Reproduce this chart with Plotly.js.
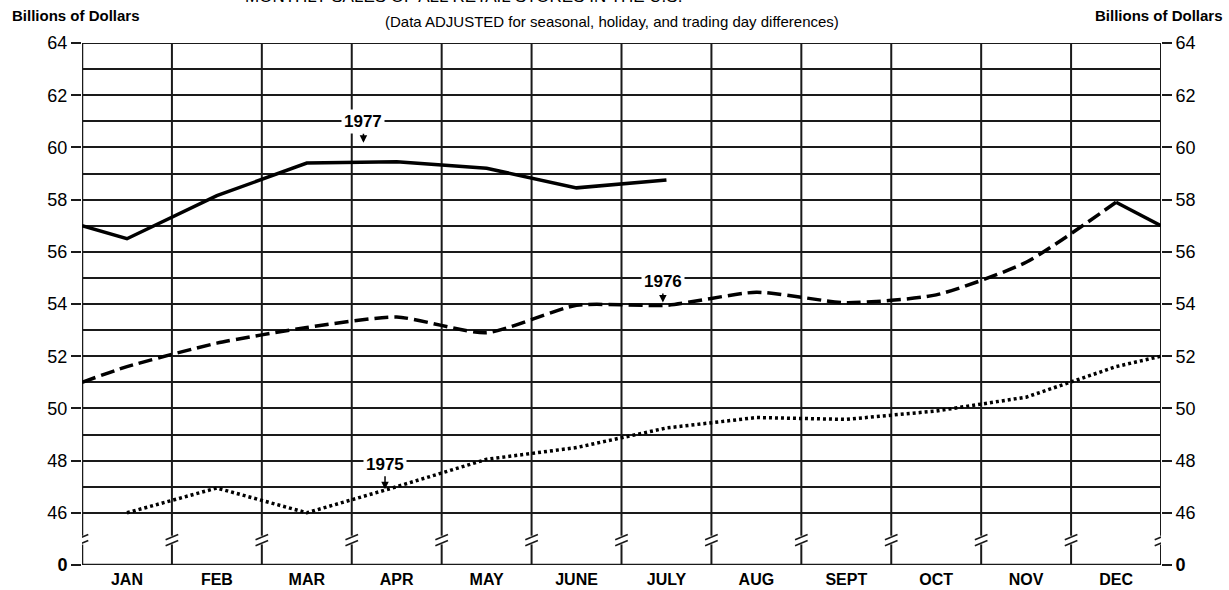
<!DOCTYPE html>
<html>
<head>
<meta charset="utf-8">
<script src="https://cdn.plot.ly/plotly-3.0.1.min.js"></script>
<style>html,body{margin:0;padding:0;background:#fff;}#chart{width:1229px;height:590px;}</style>
</head>
<body>
<div id="chart"></div>
<script>
// ---- data (billions of dollars, seasonally adjusted) ----
const months = ['JAN','FEB','MAR','APR','MAY','JUNE','JULY','AUG','SEPT','OCT','NOV','DEC'];
const sales1975 = [46.0, 46.95, 46.0, 47.0, 48.05, 48.5, 49.25, 49.65, 49.58, 49.9, 50.43, 51.6];
const sales1976 = [51.6, 52.5, 53.1, 53.5, 52.9, 53.95, 53.95, 54.45, 54.05, 54.35, 55.6, 57.9];
const sales1977 = [56.5, 58.15, 59.4, 59.45, 59.2, 58.45, 58.75];
// values where each line crosses the year boundary (left / right frame)
const start1976 = 51.0;   // from Dec 1975 into Jan 1976
const start1977 = 57.0;   // from Dec 1976 into Jan 1977
const end1975 = 52.0;
const end1976 = 57.0;
const yTickVals = [44, 46, 48, 50, 52, 54, 56, 58, 60, 62, 64];
const yTickText = ['<b>0</b>', '46', '48', '50', '52', '54', '56', '58', '60', '62', '64'];
const yMinorVals = [47, 49, 51, 53, 55, 57, 59, 61, 63];

const FONT = 'Liberation Sans, Arial, Helvetica, sans-serif';
const INK = '#1a1a1a';
const pos = months.map((m, i) => i + 0.5);   // month centres
const n = months.length;

const traces = [
  { // 1975 dotted
    x: pos.concat([n]), y: sales1975.concat([end1975]),
    mode: 'lines', line: {color: '#000', width: 3.5, dash: '3px,3px'},
    hoverinfo: 'skip', showlegend: false
  },
  { // 1976 dashed
    x: [0].concat(pos), y: [start1976].concat(sales1976),
    mode: 'lines', line: {color: '#000', width: 3.5, dash: '14px,6px', shape: 'spline', smoothing: 0.6},
    hoverinfo: 'skip', showlegend: false
  },
  { // Dec 1976 -> Jan 1977 transition (solid)
    x: [pos[n - 1], n], y: [sales1976[n - 1], end1976],
    mode: 'lines', line: {color: '#000', width: 3.5},
    hoverinfo: 'skip', showlegend: false
  },
  { // 1977 solid
    x: [0].concat(pos.slice(0, sales1977.length)), y: [start1977].concat(sales1977),
    mode: 'lines', line: {color: '#000', width: 3.5},
    hoverinfo: 'skip', showlegend: false
  },
  { // carrier for right axis
    x: [0], y: [50], yaxis: 'y2', mode: 'markers', marker: {opacity: 0},
    hoverinfo: 'skip', showlegend: false
  }
];

// vertical grid with axis breaks
const shapes = [];
const breakLo = 44.84, breakHi = 45.07;
for (let b = 0; b <= n; b++) {
  const w = (b === 0) ? 2.5 : 2;
  shapes.push({type: 'line', xref: 'x', yref: 'y', x0: b, x1: b, y0: 44, y1: breakLo - 0.05, line: {color: INK, width: w}, layer: 'below'});
  shapes.push({type: 'line', xref: 'x', yref: 'y', x0: b, x1: b, y0: breakHi + 0.05, y1: 64, line: {color: INK, width: w}, layer: 'below'});
  [breakLo, breakHi].forEach(v => {
    shapes.push({type: 'line', xref: 'x', yref: 'y', x0: b - 0.07, x1: b + 0.07, y0: v - 0.1, y1: v + 0.1, line: {color: INK, width: 1.6}});
  });
}
// frame top and bottom
shapes.push({type: 'line', xref: 'x', yref: 'y', x0: 0, x1: n, y0: 64, y1: 64, line: {color: INK, width: 2}, layer: 'below'});
shapes.push({type: 'line', xref: 'x', yref: 'y', x0: 0, x1: n, y0: 44, y1: 44, line: {color: INK, width: 2.5}, layer: 'below'});

const yearLabel = (txt, x, y, ay) => ({
  text: '<b>' + txt + '</b>', x: x, y: y, xref: 'x', yref: 'y',
  showarrow: true, arrowhead: 2, arrowsize: 1, arrowwidth: 1.5, arrowcolor: '#000',
  ax: 0, ay: ay, bgcolor: '#fff', borderpad: 2,
  font: {family: FONT, size: 17, color: '#000'}
});

const annotations = [
  {text: 'MONTHLY SALES OF ALL RETAIL STORES IN THE U.S.', xref: 'paper', yref: 'paper',
   x: 0.149, y: 1.067, xanchor: 'left', yanchor: 'bottom', showarrow: false,
   font: {family: FONT, size: 17, color: '#000'}},
  {text: '(Data ADJUSTED for seasonal, holiday, and trading day differences)', xref: 'paper', yref: 'paper',
   x: 0.491, y: 1.042, xanchor: 'center', yanchor: 'middle', showarrow: false,
   font: {family: FONT, size: 15, color: '#000'}},
  {text: '<b>Billions of Dollars</b>', xref: 'paper', yref: 'paper',
   x: -0.0667, y: 1.0536, xanchor: 'left', yanchor: 'middle', showarrow: false,
   font: {family: FONT, size: 15, color: '#000'}},
  {text: '<b>Billions of Dollars</b>', xref: 'paper', yref: 'paper',
   x: 1.0593, y: 1.0536, xanchor: 'right', yanchor: 'middle', showarrow: false,
   font: {family: FONT, size: 15, color: '#000'}},
  yearLabel('1977', 3.13, 60.18, -21),
  yearLabel('1976', 6.46, 54.06, -21),
  yearLabel('1975', 3.37, 46.9, -25)
];

const yCommon = {
  range: [44, 64], tickmode: 'array', tickvals: yTickVals, ticktext: yTickText,
  ticks: 'outside', ticklen: 10, tickwidth: 2, tickcolor: INK,
  tickfont: {family: FONT, size: 18, color: '#000'},
  zeroline: false, showline: false, fixedrange: true
};

const layout = {
  width: 1229, height: 590, autosize: false,
  margin: {l: 82, r: 68, t: 43, b: 25, pad: 0},
  paper_bgcolor: '#fff', plot_bgcolor: '#fff',
  showlegend: false, hovermode: false,
  xaxis: {
    range: [0, n], tickmode: 'array', tickvals: pos, ticktext: months.map(m => '<b>' + m + '</b>'),
    ticks: '', showgrid: false, zeroline: false, showline: false, fixedrange: true,
    ticklabelstandoff: 3,
    tickfont: {family: FONT, size: 16, color: '#000'}
  },
  yaxis: Object.assign({}, yCommon, {
    showgrid: true, gridcolor: INK, gridwidth: 2,
    minor: {tickmode: 'array', tickvals: yMinorVals, showgrid: true, gridcolor: INK, gridwidth: 2, ticks: ''}
  }),
  yaxis2: Object.assign({}, yCommon, {overlaying: 'y', side: 'right', showgrid: false, anchor: 'x'}),
  shapes: shapes,
  annotations: annotations
};

Plotly.newPlot('chart', traces, layout, {staticPlot: true, displayModeBar: false});
</script>
</body>
</html>
